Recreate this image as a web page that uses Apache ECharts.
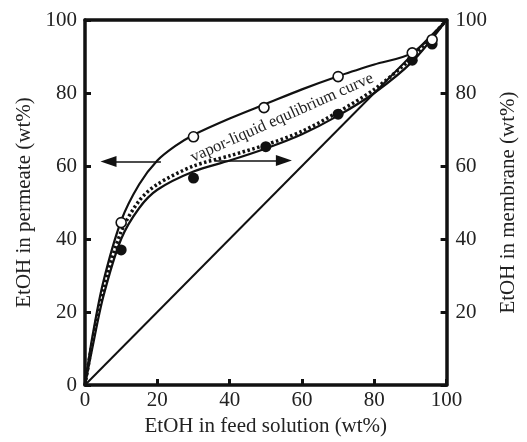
<!DOCTYPE html>
<html>
<head>
<meta charset="utf-8" />
<script src="https://cdn.jsdelivr.net/npm/echarts@6/dist/echarts.min.js"></script>
<style>
	html, body { margin: 0; padding: 0; background: #fff; }
	#chart { width: 527px; height: 442px; }
</style>
</head>
<body>
<div id="chart"></div>
<script>
	// measured points (feed wt%, wt%)
	var permeateFeed = [10, 30, 49.5, 70, 90.5, 96];
	var permeateVal = [44.5, 68, 76, 84.5, 91, 94.6];
	var membraneFeed = [10, 30, 50, 70, 90.5, 96];
	var membraneVal = [37, 56.7, 65.3, 74.2, 89, 93.4];

	// fitted curves
	var upperCurveX = [0, 2, 5, 10, 15, 20, 25, 30, 40, 50, 60, 70, 80, 90.5, 100];
	var upperCurveY = [0, 13, 28, 45, 55, 61.5, 65.5, 68.5, 73, 77, 81, 84.6, 87.8, 91, 100];
	var lowerCurveX = [0, 2, 5, 10, 15, 20, 30, 40, 50, 60, 70, 80, 90.5, 100];
	var lowerCurveY = [0, 10, 24, 40, 48.5, 53.5, 58.5, 61.5, 64.8, 68.7, 73.8, 80, 88.6, 100];
	var vleCurveX = [0, 2, 5, 10, 15, 20, 30, 40, 50, 60, 70, 80, 90, 100];
	var vleCurveY = [0, 11.5, 26, 42, 50.5, 55, 60, 62.8, 65.8, 69.5, 74.8, 81, 89.3, 100];
	var diagonalX = [0, 100];
	var diagonalY = [0, 100];

	// arrows
	var leftArrow = [[21, 61.2], [6.5, 61.2]];
	var rightArrow = [[36, 61.5], [55, 61.5]];

	var curveLabel = "vapor-liquid equlibrium curve";
	var curveLabelAt = [54.5, 73.2];

	function pairs(xs, ys) {
		var out = [];
		for(var i = 0; i < xs.length; i++) out.push([xs[i], ys[i]]);
		return out;
	}

	var font = "'Liberation Serif', 'DejaVu Serif', serif";
	var axisBase = {
		type: 'value', min: 0, max: 100, interval: 20,
		axisLine: { show: true, onZero: false, lineStyle: { color: '#111', width: 3.5 } },
		axisTick: { show: true, inside: true, length: 6, lineStyle: { color: '#111', width: 3 } },
		splitLine: { show: false },
		axisLabel: { color: '#222', fontSize: 21, fontFamily: font },
		nameTextStyle: { color: '#222', fontSize: 21, fontFamily: font },
		nameLocation: 'middle'
	};

	var Chart = echarts.init(document.getElementById('chart'));
	var option = {
		animation: false,
		grid: { left: 85, right: 75, top: 20, bottom: 57 },
		xAxis: [
			Object.assign({}, axisBase, {
				position: 'bottom', name: 'EtOH in feed solution (wt%)', nameGap: 24,
				axisLabel: Object.assign({}, axisBase.axisLabel, { margin: 5 })
			}),
			Object.assign({}, axisBase, {
				position: 'top', axisTick: { show: false }, axisLabel: { show: false }
			})
		],
		yAxis: [
			Object.assign({}, axisBase, {
				position: 'left', name: 'EtOH in permeate (wt%)', nameGap: 49,
				axisLabel: Object.assign({}, axisBase.axisLabel, { margin: 8 })
			}),
			Object.assign({}, axisBase, {
				position: 'right', name: 'EtOH in membrane (wt%)', nameGap: 47,
				axisLabel: Object.assign({}, axisBase.axisLabel, {
					margin: 9,
					formatter: function(v) { return v === 0 ? '' : String(v); }
				})
			})
		],
		series: [
			{
				type: 'line', data: pairs(diagonalX, diagonalY), symbol: 'none',
				lineStyle: { color: '#111', width: 2 }, z: 2
			},
			{
				type: 'line', data: pairs(upperCurveX, upperCurveY), symbol: 'none', smooth: 0.3,
				lineStyle: { color: '#111', width: 2.2 }, z: 3
			},
			{
				type: 'line', data: pairs(lowerCurveX, lowerCurveY), symbol: 'none', smooth: 0.3,
				lineStyle: { color: '#111', width: 2.2 }, z: 3
			},
			{
				type: 'line', data: pairs(vleCurveX, vleCurveY), symbol: 'none', smooth: 0.3,
				lineStyle: { color: '#111', width: 3.5, type: [2.5, 2.5] }, z: 4
			},
			{
				type: 'line', data: [], symbol: 'none',
				markLine: {
					silent: true, symbol: ['none', 'triangle'], symbolSize: [11, 16],
					lineStyle: { color: '#111', width: 1.6, type: 'solid' }, label: { show: false },
					data: [
						[{ coord: leftArrow[0] }, { coord: leftArrow[1] }],
						[{ coord: rightArrow[0] }, { coord: rightArrow[1] }]
					]
				}
			},
			{
				type: 'scatter', data: pairs(membraneFeed, membraneVal), symbol: 'circle', symbolSize: 11,
				itemStyle: { color: '#111', opacity: 1 }, z: 6
			},
			{
				type: 'scatter', data: pairs(permeateFeed, permeateVal), symbol: 'circle', symbolSize: 10,
				itemStyle: { color: '#fff', borderColor: '#111', borderWidth: 1.6, opacity: 1 }, z: 7
			}
		]
	};
	Chart.setOption(option);

	var p = Chart.convertToPixel({ xAxisIndex: 0, yAxisIndex: 0 }, curveLabelAt);
	Chart.setOption({
		graphic: [{
			type: 'text', x: p[0], y: p[1], rotation: 24 * Math.PI / 180, z: 10,
			style: {
				text: curveLabel, fill: '#222', fontSize: 16.5, fontFamily: font,
				align: 'center', verticalAlign: 'middle'
			}
		}]
	});
</script>
</body>
</html>
